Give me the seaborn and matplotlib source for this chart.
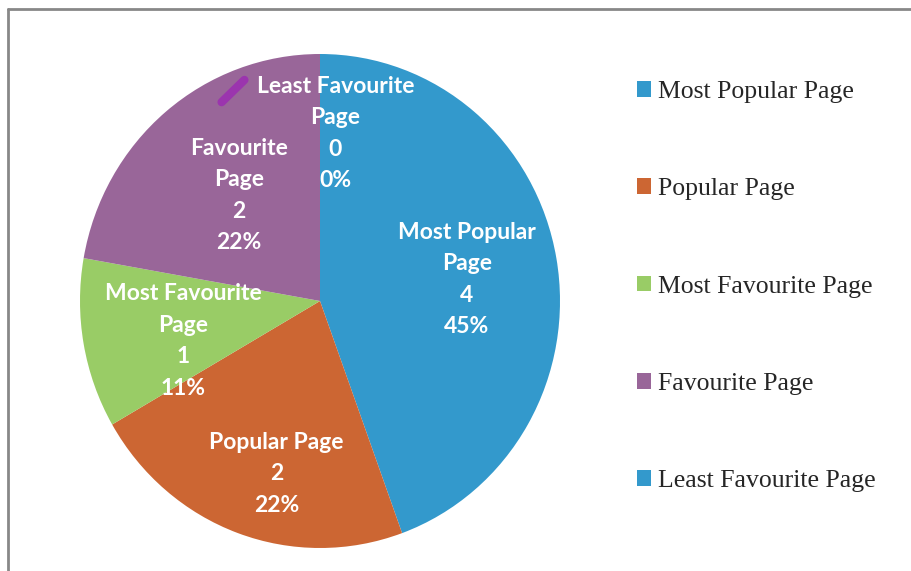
import matplotlib
matplotlib.use("Agg")
import matplotlib.pyplot as plt
import seaborn as sns
from matplotlib.lines import Line2D

categories = ["Most Popular Page", "Popular Page", "Most Favourite Page",
              "Favourite Page", "Least Favourite Page"]
values = [4, 2, 1, 2, 0]
percent_labels = ["45%", "22%", "11%", "22%", "0%"]
slice_titles = ["Most Popular\nPage", "Popular Page", "Most Favourite\nPage",
                "Favourite\nPage", "Least Favourite\nPage"]
colors = ["#3399CC", "#CC6633", "#99CC66", "#996699", "#3399CC"]

sns.set_theme(style="white")
plt.rcParams["font.family"] = ["Lato", "DejaVu Sans"]

W, H = 912, 571
fig = plt.figure(figsize=(W / 100, H / 100), dpi=100)
fig.patch.set_facecolor("white")

# pie axes (slightly taller than wide, as in the reference)
cx, cy, rx, ry = 320, 301, 240, 247
ax = fig.add_axes([(cx - rx) / W, (H - cy - ry) / H, 2 * rx / W, 2 * ry / H])
wedges, _ = ax.pie(values, colors=colors, startangle=90, counterclock=False,
                   radius=1, wedgeprops=dict(linewidth=0))
ax.set_xlim(-1, 1)
ax.set_ylim(-1, 1)
ax.set_aspect("auto")
ax.axis("off")

label_pos = [(0.6125, 0.087), (-0.181, -0.699), (-0.571, -0.162),
             (-0.3375, 0.428), (0.0646, 0.679)]
pitch = 31.5
for (x, y), t, v, p in zip(label_pos, slice_titles, values, percent_labels):
    lines = t.split("\n") + [str(v), p]
    n = len(lines)
    for i, line in enumerate(lines):
        ax.annotate(line, (x, y), xytext=(0, -(i - (n - 1) / 2) * pitch),
                    textcoords="offset pixels", ha="center", va="center",
                    color="white", fontsize=16.5, fontweight="bold")

# leader line for the zero slice
ax.add_line(Line2D([-0.41, -0.315], [0.805, 0.895], color="#9B35AE", lw=6,
                   solid_capstyle="round"))

fs = 18.5
fig.legend(wedges, categories, loc="upper left",
           bbox_to_anchor=(637 / W, 1 - 81 / H), frameon=False,
           prop=dict(family="Liberation Serif", size=fs),
           labelspacing=2.93, handlelength=0.55, handleheight=0.55,
           handletextpad=0.25, borderpad=0, borderaxespad=0)

# chart frame (top and left edges visible)
fig.add_artist(Line2D([8 / W, 1], [1 - 9 / H] * 2, color="#888888", lw=2,
                      transform=fig.transFigure))
fig.add_artist(Line2D([8 / W] * 2, [0, 1 - 9 / H], color="#888888", lw=2,
                      transform=fig.transFigure))

fig.savefig("out.png", dpi=100, facecolor="white")
